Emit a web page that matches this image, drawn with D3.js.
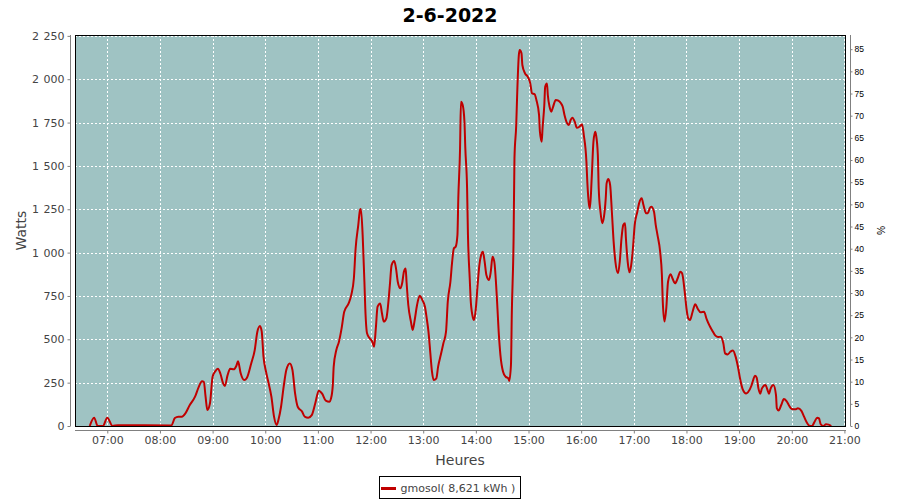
<!DOCTYPE html>
<html>
<head>
<meta charset="utf-8">
<script src="https://cdn.jsdelivr.net/npm/d3@7"></script>
<style>
  html, body { margin: 0; padding: 0; background: #ffffff; }
  svg { display: block; font-family: "DejaVu Sans", sans-serif; }
</style>
</head>
<body>
<svg id="chart" width="900" height="500"></svg>
<script>
// ---- data ----
const title = "2-6-2022";
const seriesName = "gmosol( 8,621 kWh )";
const hourTicks = ["07:00","08:00","09:00","10:00","11:00","12:00","13:00","14:00","15:00","16:00","17:00","18:00","19:00","20:00","21:00"];
const wattTicks = [0,250,500,750,1000,1250,1500,1750,2000,2250];
const pctTicks = [0,5,10,15,20,25,30,35,40,45,50,55,60,65,70,75,80,85];

// minutes of the day
const minutes = [
 400,405,409,415,420,426,432,493,497,501,505,509,514,520,524,528,530,532,534,537,
 540,543,546,549,552,554,557,560,564,567,569,572,576,579,584,588,591,594,596,598,
 601,603,607,610,613,615,618,621,624,628,631,634,637,642,645,649,653,657,661,665,
 669,673,675,677,678,681,684,687,690,695,698,701,703,706,708,709,711,712,713,714,
 716,719,722,724,726,728,731,733,735,738,740,742,744,747,749,751,754,756,758,760,
 761,763,766,768,770,773,776,779,782,784,786,788,790,792,795,797,800,803,806,808,
 811,813,815,817,819,820,822,823,825,827,828,830,831,833,834,836,838,840,842,844,
 846,848,850,852,855,857,859,861,864,866,868,871,874,877,878,880,881,883,884,886,
 887,889,890,892,893,896,899,902,904,907,909,912,913,915,916,918,919,921,922,924,
 926,928,931,934,937,939,941,944,946,948,950,953,955,958,961,963,966,967,969,970,
 972,974,976,977,979,980,982,984,986,988,989,991,993,995,997,999,1002,1004,1006,1008,
 1010,1011,1013,1015,1017,1019,1021,1024,1026,1029,1031,1034,1036,1038,1040,1043,1045,1047,1050,1052,
 1053,1055,1057,1059,1062,1064,1067,1070,1073,1075,1078,1080,1082,1084,1087,1090,1093,1096,1100,1103,
 1106,1109,1113,1116,1119,1122,1124,1127,1130,1133,1136,1139,1141,1144,1148,1150,1154,1156,1158,1160,
 1162,1164,1166,1170,1172,1174,1176,1179,1182,1183,1185,1188,1191,1194,1197,1200,1204,1207,1211,1214,
 1217,1220,1223,1226,1229,1231,1233,1236,1239,1242,1245
];
const watts = [
 0,48,0,0,48,0,5,3,46,54,54,73,121,169,223,258,255,169,92,131,
 284,315,330,300,246,231,292,330,327,346,373,304,265,277,361,438,544,577,544,400,
 311,265,169,54,6,35,111,227,323,361,323,188,111,83,54,48,63,131,204,185,
 146,140,160,236,342,438,486,563,659,707,755,852,1025,1159,1246,1251,1101,967,832,679,
 535,506,486,457,563,688,707,650,602,621,698,813,928,952,909,832,794,823,890,909,
 832,698,602,554,602,698,751,727,688,621,544,428,313,265,275,342,409,477,544,717,
 832,948,1025,1034,1101,1313,1601,1870,1851,1755,1601,1371,1101,852,736,640,611,679,813,928,
 986,1005,948,871,842,890,976,948,736,544,409,313,284,275,260,352,659,1083,1544,1736,
 1899,2140,2168,2149,2082,2034,2015,1976,1919,1913,1880,1794,1697,1640,1717,1851,1957,1976,1909,1841,
 1813,1841,1880,1876,1861,1841,1794,1746,1736,1765,1778,1751,1720,1726,1740,1678,1524,1409,1274,1255,
 1428,1640,1697,1678,1563,1371,1236,1169,1207,1313,1399,1424,1390,1236,1063,948,881,948,1083,1159,
 1169,1083,948,886,928,1025,1159,1236,1284,1313,1274,1227,1227,1255,1265,1236,1159,1101,1005,871,
 717,602,679,832,875,852,823,852,890,881,775,679,621,611,659,702,675,656,659,617,
 582,554,521,513,515,477,419,413,428,436,400,333,275,213,188,194,232,265,290,279,
 217,186,217,236,213,186,217,236,179,102,90,121,156,144,117,98,96,102,87,54,
 21,2,0,25,48,44,10,0,10,8,0
];

// ---- layout ----
const plot = { left: 75, top: 35, right: 846, bottom: 426 };
const svg = d3.select("#chart");

const toMin = s => { const [h, m] = s.split(":").map(Number); return h * 60 + m; };

const x = d3.scaleLinear().domain([383.2, 1261.8]).range([plot.left, plot.right]);
const y = d3.scaleLinear().domain([0, 2255]).range([plot.bottom, plot.top]);
const y2 = d3.scaleLinear().domain([0, 88.2]).range([plot.bottom, plot.top]);

// plot background
svg.append("rect")
  .attr("x", plot.left).attr("y", plot.top)
  .attr("width", plot.right - plot.left).attr("height", plot.bottom - plot.top)
  .attr("fill", "#9fc3c3");

// gridlines
const grid = svg.append("g").attr("stroke", "#ffffff").attr("stroke-width", 1).attr("stroke-dasharray", "2,2");
hourTicks.forEach(t => {
  const px = Math.round(x(toMin(t))) + 0.5;
  grid.append("line").attr("x1", px).attr("x2", px).attr("y1", plot.top).attr("y2", plot.bottom);
});
wattTicks.forEach(v => {
  if (v === 0) return;
  const py = Math.round(y(v)) + 0.5;
  grid.append("line").attr("x1", plot.left).attr("x2", plot.right).attr("y1", py).attr("y2", py);
});

// line
svg.append("clipPath").attr("id", "clip").append("rect")
  .attr("x", plot.left).attr("y", plot.top)
  .attr("width", plot.right - plot.left).attr("height", plot.bottom - plot.top);

const data = d3.zip(minutes, watts);
const line = d3.line()
  .x(d => x(d[0]))
  .y(d => y(d[1]))
  .curve(d3.curveMonotoneX);

svg.append("path")
  .datum(data)
  .attr("clip-path", "url(#clip)")
  .attr("fill", "none")
  .attr("stroke", "#c00000")
  .attr("stroke-width", 2)
  .attr("stroke-linejoin", "round")
  .attr("d", line);

// plot border
svg.append("rect")
  .attr("x", plot.left + 0.5).attr("y", plot.top + 0.5)
  .attr("width", plot.right - plot.left - 1).attr("height", plot.bottom - plot.top)
  .attr("fill", "none").attr("stroke", "#000").attr("stroke-width", 1);

// axes
const axisColor = "#808080";
const labelColor = "#444444";

// left axis
const leftAxis = svg.append("g").attr("transform", `translate(${plot.left - 4.5},0)`)
  .call(d3.axisLeft(y).tickValues(wattTicks).tickSize(3).tickSizeOuter(0).tickPadding(3)
    .tickFormat(d => d3.format(",")(d).replace(/,/g, "\u2009\u2009")));
leftAxis.select(".domain").attr("stroke", axisColor).attr("d", `M0,${plot.top}V${plot.bottom}`);
leftAxis.selectAll(".tick line").attr("stroke", axisColor);
leftAxis.selectAll(".tick text").attr("fill", labelColor).style("font-size", "11px").style("font-family", "DejaVu Sans");

// bottom axis
const bottomAxis = svg.append("g").attr("transform", `translate(0,${plot.bottom + 4.5})`)
  .call(d3.axisBottom(x).tickValues(hourTicks.map(toMin)).tickSize(3).tickSizeOuter(0).tickPadding(3)
    .tickFormat((d, i) => hourTicks[i]));
bottomAxis.select(".domain").attr("stroke", axisColor).attr("d", `M${plot.left},0H${plot.right}`);
bottomAxis.selectAll(".tick line").attr("stroke", axisColor);
bottomAxis.selectAll(".tick text").attr("fill", labelColor).style("font-size", "11px").style("font-family", "DejaVu Sans");

// right axis
const rightAxis = svg.append("g").attr("transform", `translate(${plot.right + 4.5},0)`)
  .call(d3.axisRight(y2).tickValues(pctTicks).tickSize(2).tickSizeOuter(0).tickPadding(2));
rightAxis.select(".domain").attr("stroke", axisColor).attr("d", `M0,${plot.top}V${plot.bottom}`);
rightAxis.selectAll(".tick line").attr("stroke", axisColor);
rightAxis.selectAll(".tick text").attr("fill", "#000").style("font-size", "8.5px").style("font-family", "Liberation Sans, Arial, sans-serif");

// titles
svg.append("text").attr("x", 450).attr("y", 22).attr("text-anchor", "middle")
  .style("font-size", "19px").style("font-weight", "bold").attr("fill", "#000").text(title);

svg.append("text").attr("transform", `translate(26,${(plot.top + plot.bottom) / 2}) rotate(-90)`)
  .attr("text-anchor", "middle").style("font-size", "14px").attr("fill", labelColor).text("Watts");

svg.append("text").attr("x", 460).attr("y", 465).attr("text-anchor", "middle")
  .style("font-size", "14px").attr("fill", labelColor).text("Heures");

svg.append("text").attr("transform", `translate(877,${(plot.top + plot.bottom) / 2}) rotate(90)`)
  .attr("text-anchor", "middle").style("font-size", "10px").style("font-family", "Liberation Sans, Arial, sans-serif")
  .attr("fill", "#000").text("%");

// legend
const lg = svg.append("g");
lg.append("rect").attr("x", 379.5).attr("y", 476.5).attr("width", 141).attr("height", 22)
  .attr("fill", "#fff").attr("stroke", "#000").attr("stroke-width", 1);
lg.append("line").attr("x1", 381).attr("x2", 396).attr("y1", 488.5).attr("y2", 488.5)
  .attr("stroke", "#c00000").attr("stroke-width", 3);
lg.append("text").attr("x", 400.5).attr("y", 492).style("font-size", "11px").attr("fill", labelColor).text(seriesName);
</script>
</body>
</html>
